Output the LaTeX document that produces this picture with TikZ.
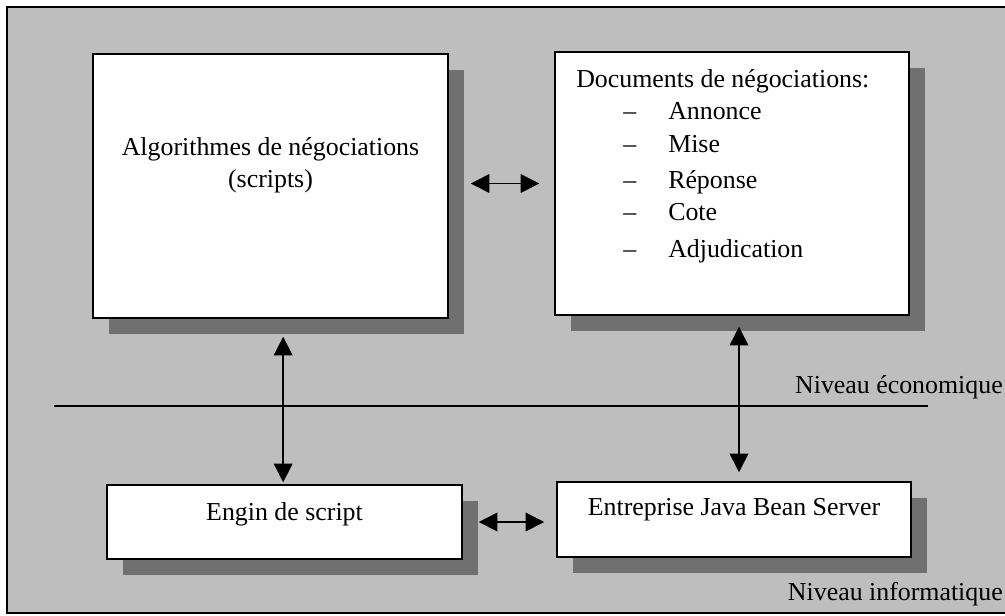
\documentclass[tikz,border=0pt]{standalone}
\usepackage{fontspec}
\setmainfont{Liberation Serif}
\usetikzlibrary{arrows.meta, shadows, calc}
\definecolor{fondo}{RGB}{190,190,190}
\definecolor{ombra}{RGB}{112,112,112}

\begin{document}
\begin{tikzpicture}[x=0.75pt,y=-0.75pt,
        blocco/.style={draw, line width=1.1pt, fill=white, inner sep=0pt,
            drop shadow={shadow xshift=12pt, shadow yshift=-12pt, fill=ombra, opacity=1}},
        testo/.style={font=\fontsize{19.4}{24}\selectfont, inner sep=0pt},
        freccia/.style={{Triangle[length=14pt,width=14pt]}-{Triangle[length=14pt,width=14pt]}, line width=1.1pt}]
        %cornice
        \useasboundingbox (0,0) rectangle (1005,615);
        \draw[fill=fondo, line width=1.2pt] (7,7) rectangle (1030,613);
        %blocco algoritmi
        \node[blocco, minimum width=266.25pt, minimum height=198pt] (algo) at (270.5,186) {};
        \node[testo, align=center, anchor=base] (algotesto) at (270.5,187) {Algorithmes de négociations\\(scripts)};
        %blocco documenti
        \node[blocco, minimum width=265.5pt, minimum height=197.25pt] (docs) at (732,183.5) {};
        \node[testo, align=left, anchor=base west] (docstesto) at (576,257) {Documents de négociations:\\
            \hspace*{35.25pt}\makebox[33.75pt][l]{--}Annonce\\[0.75pt]
            \hspace*{35.25pt}\makebox[33.75pt][l]{--}Mise\\[3pt]
            \hspace*{35.25pt}\makebox[33.75pt][l]{--}Réponse\\
            \hspace*{35.25pt}\makebox[33.75pt][l]{--}Cote\\[3.75pt]
            \hspace*{35.25pt}\makebox[33.75pt][l]{--}Adjudication};
        %blocco motore
        \node[blocco, minimum width=266.25pt, minimum height=55.5pt] (motore) at (284.5,522) {};
        \node[testo, anchor=base] (motoretesto) at (284.5,520) {Engin de script};
        %blocco server
        \node[blocco, minimum width=265.5pt, minimum height=56.25pt] (server) at (734,519.5) {};
        \node[testo, anchor=base] (servertesto) at (734,515) {Entreprise Java Bean Server};
        %separazione livelli
        \draw[line width=1.1pt] (54,406) -- (928,406);
        \node[testo, anchor=base east] (livecon) at (1003,393) {Niveau économique};
        \node[testo, anchor=base east] (livinfo) at (1003,600) {Niveau informatique};
        %frecce orizzontali
        \draw[freccia] ([xshift=16.5pt]algo.east |- docs.west) -- ([xshift=-11.25pt]docs.west);
        \draw[freccia] ([xshift=12pt]motore.east) -- ([xshift=-9pt]motore.east -| server.west);
        %frecce verticali
        \draw[freccia] ([xshift=-1pt,yshift=-13.5pt]motore.north |- algo.south) -- ([xshift=-1pt,yshift=1.5pt]motore.north);
        \draw[freccia] ([xshift=3.75pt,yshift=-8.25pt]server.north |- docs.south) -- ([xshift=3.75pt,yshift=6.75pt]server.north);
    \end{tikzpicture}
\end{document}
